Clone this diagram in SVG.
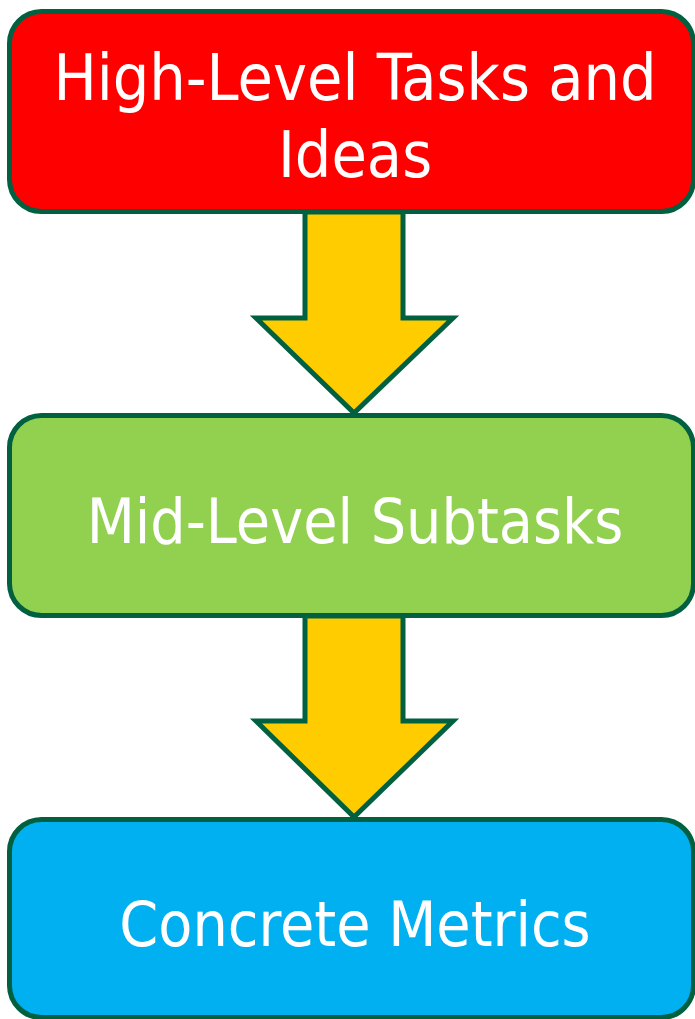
<svg xmlns="http://www.w3.org/2000/svg" width="695" height="1019" viewBox="0 0 695 1019">
  <style>
    .box { stroke: #00603f; stroke-width: 5; }
    .arrow { fill: #ffcc00; stroke: #00603f; stroke-width: 5; stroke-linejoin: miter; }
    .label { font-family: "DejaVu Sans Condensed", "DejaVu Sans", sans-serif; font-size: 62px; fill: #ffffff; text-anchor: middle; }
    .label.big { font-size: 64px; }
  </style>
  <rect width="695" height="1019" fill="#ffffff"/>

  <!-- downward block arrows between levels -->
  <g id="connectors">
    <path class="arrow" d="M305,212 L403,212 L403,318 L453,318 L354,413 L256,318 L305,318 Z"/>
    <path class="arrow" d="M305,616 L403,616 L403,721 L453,721 L354,817 L256,721 L305,721 Z"/>
  </g>

  <g id="high-level">
    <rect class="box" x="9.5" y="11.5" width="684" height="200" rx="32" fill="#ff0000"/>
    <text class="label big" x="355" y="100">High-Level Tasks and</text>
    <text class="label big" x="355" y="177">Ideas</text>
  </g>

  <g id="mid-level">
    <rect class="box" x="9.5" y="415.5" width="684" height="200" rx="32" fill="#92d050"/>
    <text class="label" x="355" y="543">Mid-Level Subtasks</text>
  </g>

  <g id="concrete">
    <rect class="box" x="9.5" y="819.5" width="684" height="198" rx="32" fill="#00b0f0"/>
    <text class="label" x="355" y="946">Concrete Metrics</text>
  </g>
</svg>
